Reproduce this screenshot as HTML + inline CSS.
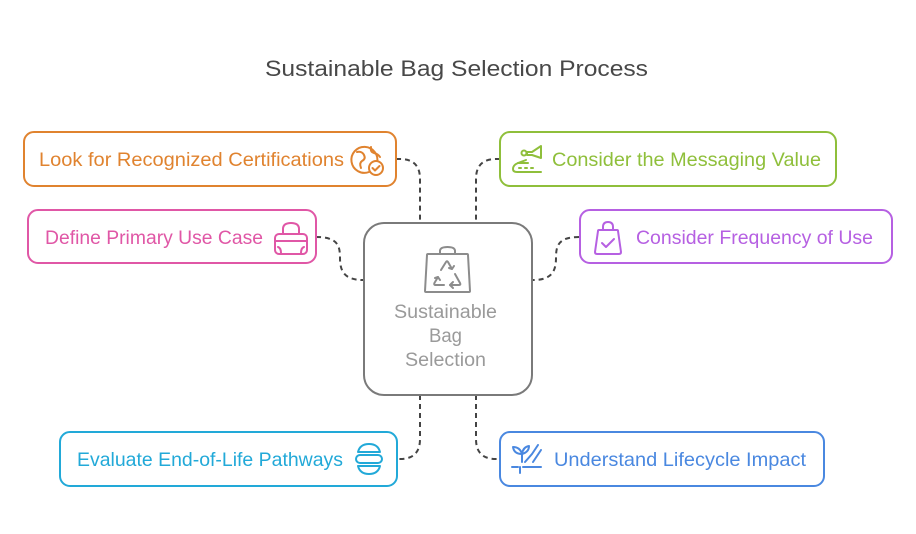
<!DOCTYPE html>
<html>
<head>
<meta charset="utf-8">
<style>
  html, body { margin: 0; padding: 0; background: #ffffff; }
  body { width: 916px; height: 534px; overflow: hidden; }
  svg { display: block; }
  text { font-family: "Liberation Sans", sans-serif; }
</style>
</head>
<body>
<svg width="916" height="534" viewBox="0 0 916 534" xmlns="http://www.w3.org/2000/svg">
  <rect x="0" y="0" width="916" height="534" fill="#ffffff"/>

  <!-- Title -->
  <text x="265" y="76" font-size="22" fill="#484848" textLength="383" lengthAdjust="spacingAndGlyphs">Sustainable Bag Selection Process</text>

  <!-- Connectors -->
  <g fill="none" stroke="#444444" stroke-width="2" stroke-dasharray="5 4">
    <path d="M396,159 L400,159 Q420,159 420,179 L420,222"/>
    <path d="M500,159 L496,159 Q476,159 476,179 L476,222"/>
    <path d="M316,237 C338,237 340,246 340,258 C340,272 345,280 363,280"/>
    <path d="M579,237 C558,237 556,246 556,258 C556,272 551,280 533,280"/>
    <path d="M420,395 L420,439 Q420,459 400,459 L397,459"/>
    <path d="M476,395 L476,439 Q476,459 496,459 L500,459"/>
  </g>

  <!-- Center box -->
  <rect x="364" y="223" width="168" height="172" rx="20" ry="20" fill="#ffffff" stroke="#7a7a7a" stroke-width="2"/>
  <!-- Center bag icon -->
  <g fill="none" stroke="#8c8c8c" stroke-width="2" stroke-linecap="round" stroke-linejoin="round">
    <path d="M440,254 L440,251 Q440,247 447.5,247 Q455,247 455,251 L455,254"/>
    <path d="M428,254 L467,254 Q468,254 468,255 L470,291 Q470,292 469,292 L426,292 Q425,292 425,291 L427,255 Q427,254 428,254 Z"/>
    <!-- recycle arrows -->
    <path d="M441,270 L446,262 Q447,260.5 448,262 L452,269"/>
    <path d="M449,268 L452,269 L454,266"/>
    <path d="M455,274 L460,283 Q461,285 459,285 L450,285"/>
    <path d="M453,282 L450,285 L453,288"/>
    <path d="M444,285 L436,285 Q433,285 435,282 L438,277"/>
    <path d="M435,278 L438,277 L440,280"/>
  </g>
  <text x="394" y="318" font-size="19" fill="#9a9a9a" textLength="103" lengthAdjust="spacingAndGlyphs">Sustainable</text>
  <text x="429" y="342" font-size="19" fill="#9a9a9a" textLength="33" lengthAdjust="spacingAndGlyphs">Bag</text>
  <text x="405" y="366" font-size="19" fill="#9a9a9a" textLength="81" lengthAdjust="spacingAndGlyphs">Selection</text>

  <!-- Orange box -->
  <rect x="24" y="132" width="372" height="54" rx="10" fill="#ffffff" stroke="#e0832f" stroke-width="2"/>
  <text x="39" y="166" font-size="19.5" fill="#e0832f" textLength="305" lengthAdjust="spacingAndGlyphs">Look for Recognized Certifications</text>
  <g fill="none" stroke="#e0832f" stroke-width="2" stroke-linecap="round" stroke-linejoin="round">
    <path d="M377,163 A13,13 0 1 0 369,172"/>
    <path d="M357,152 Q362,151 364,155 Q366,159 362,161 Q359,163 361,168"/>
    <path d="M371,147 Q370,152 374,153 Q378,154 380,157"/>
    <circle cx="376" cy="168" r="7" fill="#ffffff"/>
    <path d="M372.5,168 L375,170.5 L379.5,166"/>
  </g>

  <!-- Pink box -->
  <rect x="28" y="210" width="288" height="53" rx="10" fill="#ffffff" stroke="#e057a6" stroke-width="2"/>
  <text x="45" y="244" font-size="19" fill="#e057a6" textLength="218" lengthAdjust="spacingAndGlyphs">Define Primary Use Case</text>
  <g fill="none" stroke="#e057a6" stroke-width="2" stroke-linecap="round" stroke-linejoin="round">
    <path d="M283,234 L283,229 Q283,223 291,223 Q299,223 299,229 L299,234"/>
    <rect x="275" y="234" width="32" height="20" rx="4"/>
    <path d="M275,241 L307,241"/>
    <path d="M278,247 Q281,248 281,253"/>
    <path d="M304,247 Q301,248 301,253"/>
  </g>

  <!-- Green box -->
  <rect x="500" y="132" width="336" height="54" rx="10" fill="#ffffff" stroke="#8fbf3b" stroke-width="2"/>
  <text x="552" y="166" font-size="19.5" fill="#8fbf3b" textLength="269" lengthAdjust="spacingAndGlyphs">Consider the Messaging Value</text>
  <g fill="none" stroke="#8fbf3b" stroke-width="2" stroke-linecap="round" stroke-linejoin="round">
    <path d="M527,152 L532,152 L541,146 L541,158 L532,155 L527,155 Z"/>
    <circle cx="524" cy="153" r="2.5"/>
    <path d="M526,160 L518,163 Q513,165 513,169 Q513,172 517,172 L541,172"/>
    <path d="M518,163 L528,163"/>
    <path d="M519,168 L521,168 M525,168 L527,168 M531,168 L533,168"/>
  </g>

  <!-- Purple box -->
  <rect x="580" y="210" width="312" height="53" rx="10" fill="#ffffff" stroke="#b660e2" stroke-width="2"/>
  <text x="636" y="244" font-size="19" fill="#b660e2" textLength="237" lengthAdjust="spacingAndGlyphs">Consider Frequency of Use</text>
  <g fill="none" stroke="#b660e2" stroke-width="2" stroke-linecap="round" stroke-linejoin="round">
    <path d="M603,230 L603,227 Q603,222 608,222 Q613,222 613,227 L613,230"/>
    <path d="M599,230 L617,230 Q618,230 618,231 L621,252 Q621,254 619,254 L597,254 Q595,254 595,252 L598,231 Q598,230 599,230 Z"/>
    <path d="M602,243 L606,247 L614,239"/>
  </g>

  <!-- Cyan box -->
  <rect x="60" y="432" width="337" height="54" rx="10" fill="#ffffff" stroke="#22a9d8" stroke-width="2"/>
  <text x="77" y="466" font-size="19.5" fill="#22a9d8" textLength="266" lengthAdjust="spacingAndGlyphs">Evaluate End-of-Life Pathways</text>
  <g fill="none" stroke="#22a9d8" stroke-width="2" stroke-linecap="round" stroke-linejoin="round">
    <path d="M358,452 Q360,444 369,444 Q378,444 380,452 Z"/>
    <rect x="356" y="455" width="26" height="8" rx="4"/>
    <path d="M358,466 L380,466 Q378,474 369,474 Q360,474 358,466 Z"/>
  </g>

  <!-- Blue box -->
  <rect x="500" y="432" width="324" height="54" rx="10" fill="#ffffff" stroke="#4a88e0" stroke-width="2"/>
  <text x="554" y="466" font-size="19.5" fill="#4a88e0" textLength="252" lengthAdjust="spacingAndGlyphs">Understand Lifecycle Impact</text>
  <g fill="none" stroke="#4a88e0" stroke-width="2" stroke-linecap="round" stroke-linejoin="round">
    <path d="M522,462 L522,454"/>
    <path d="M522,454 Q514,454 513,447 Q520,447 522,454"/>
    <path d="M522,454 Q523,447 529,446 Q529,452 522,454"/>
    <path d="M525,462 L532,454 L538,445"/>
    <path d="M533,462 L541,450"/>
    <path d="M512,467 L518,467 M523,467 L541,467"/>
    <path d="M520,467 L520,473"/>
  </g>
</svg>
</body>
</html>
